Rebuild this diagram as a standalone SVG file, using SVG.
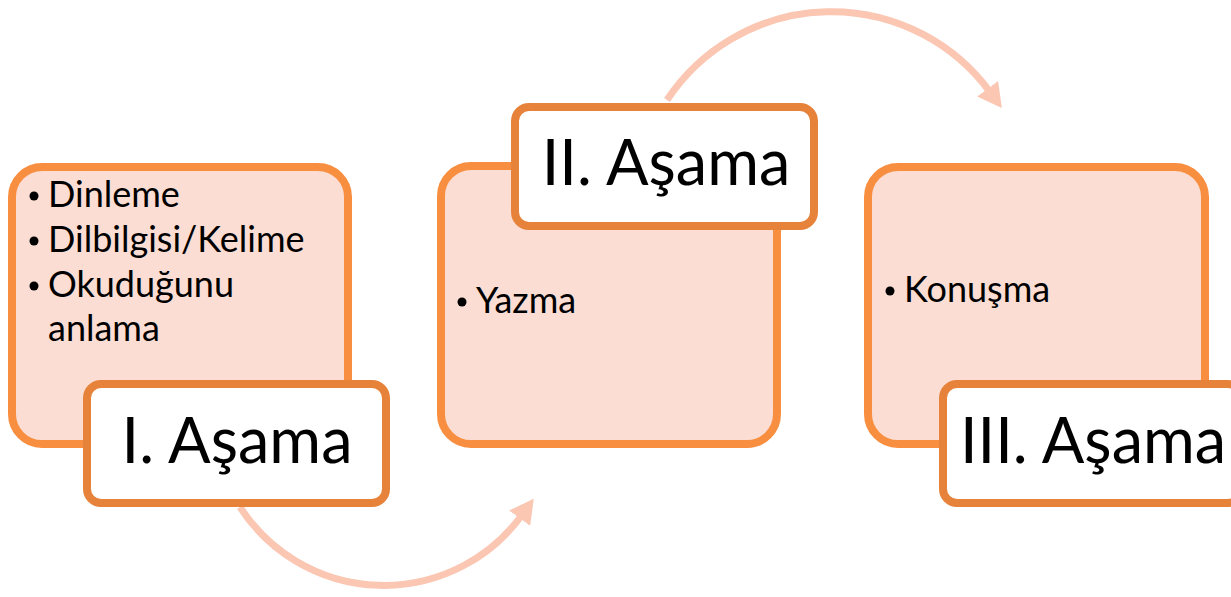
<svg xmlns="http://www.w3.org/2000/svg" width="1231" height="597" viewBox="0 0 1231 597">
<style>
.box{fill:#FBDDD3;stroke:#F88E3F;stroke-width:8}
.lab{fill:#FFFFFF;stroke:#E6823A;stroke-width:8}
.arc{fill:none;stroke:#FBC6B2;stroke-width:7}
.t{font-family:Lato,"Liberation Sans",sans-serif;font-size:36px;fill:#000}
.big{font-family:Lato,"Liberation Sans",sans-serif;font-size:63px;fill:#000;text-anchor:middle}
</style>
<defs>
<marker id="ah" markerUnits="userSpaceOnUse" markerWidth="24" markerHeight="26" refX="4" refY="13" orient="auto" viewBox="0 0 24 26">
<path d="M0 0 L24 13 L0 26 Z" fill="#FBC6B2"/>
</marker>
</defs>
<g id="connectors">
<path class="arc" d="M 240 507 A 171 171 0 0 0 522 515" marker-end="url(#ah)"/>
<path class="arc" d="M 667 100 A 197 197 0 0 1 990 92" marker-end="url(#ah)"/>
</g>
<g id="stage1">
<rect class="box" x="12" y="167" width="336" height="277" rx="30"/>
<circle cx="34" cy="196" r="4.5"/>
<text class="t" x="48" y="207">Dinleme</text>
<circle cx="34" cy="241" r="4.5"/>
<text class="t" x="48" y="252">Dilbilgisi/Kelime</text>
<circle cx="34" cy="286" r="4.5"/>
<text class="t" x="48" y="297">Okuduğunu</text>
<text class="t" x="48" y="341">anlama</text>
</g>
<g id="label1">
<rect class="lab" x="87" y="384" width="299" height="119" rx="14"/>
<text class="big" x="237" y="463">I. Aşama</text>
</g>
<g id="stage2">
<rect class="box" x="441" y="166" width="336" height="278" rx="30"/>
<circle cx="462" cy="302" r="4.5"/>
<text class="t" x="476" y="313">Yazma</text>
</g>
<g id="label2">
<rect class="lab" x="515" y="107" width="299" height="119" rx="14"/>
<text class="big" x="666" y="185">II. Aşama</text>
</g>
<g id="stage3">
<rect class="box" x="868" y="167" width="337" height="277" rx="30"/>
<circle cx="890" cy="291" r="4.5"/>
<text class="t" x="904" y="302">Konuşma</text>
</g>
<g id="label3">
<rect class="lab" x="943" y="384" width="299" height="119" rx="14"/>
<text class="big" x="1093" y="463">III. Aşama</text>
</g>
</svg>
